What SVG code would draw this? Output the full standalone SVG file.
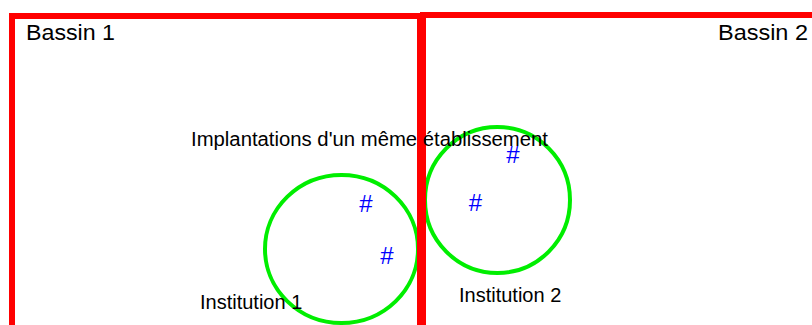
<svg xmlns="http://www.w3.org/2000/svg" width="812" height="325" viewBox="0 0 812 325">
<style>
.bassin{fill:none;stroke:#ff0000;stroke-width:6}
.inst{fill:none;stroke:#00ee00;stroke-width:4}
.lbl{font-family:"Liberation Sans",Arial,sans-serif;font-size:20px;fill:#000}
.big{font-family:"Liberation Sans",Arial,sans-serif;font-size:22px;fill:#000}
.hash{font-family:"Liberation Sans",Arial,sans-serif;font-size:24px;fill:#0000ff;text-anchor:middle}
</style>
<rect width="812" height="325" fill="#fff"/>
<g id="institution1">
<ellipse class="inst" cx="341.5" cy="249" rx="76.5" ry="74"/>
<text class="hash" x="366" y="212">#</text>
<text class="hash" x="387" y="264">#</text>
<text class="lbl" x="200" y="309">Institution 1</text>
</g>
<g id="institution2">
<ellipse class="inst" cx="497.5" cy="200" rx="72.5" ry="73"/>
<text class="hash" x="513" y="163">#</text>
<text class="hash" x="475.5" y="211">#</text>
<text class="lbl" x="459" y="302">Institution 2</text>
</g>
<g id="bassin1">
<rect class="bassin" x="12" y="16" width="408" height="400"/>
<text class="big" x="26" y="40" textLength="89" lengthAdjust="spacingAndGlyphs">Bassin 1</text>
</g>
<g id="bassin2">
<rect class="bassin" x="423" y="15" width="500" height="400"/>
<text class="big" x="718" y="40" textLength="90" lengthAdjust="spacingAndGlyphs">Bassin 2</text>
</g>
<g id="implantations">
<text class="lbl" x="191" y="146" textLength="357" lengthAdjust="spacingAndGlyphs">Implantations d'un même établissement</text>
</g>
</svg>
